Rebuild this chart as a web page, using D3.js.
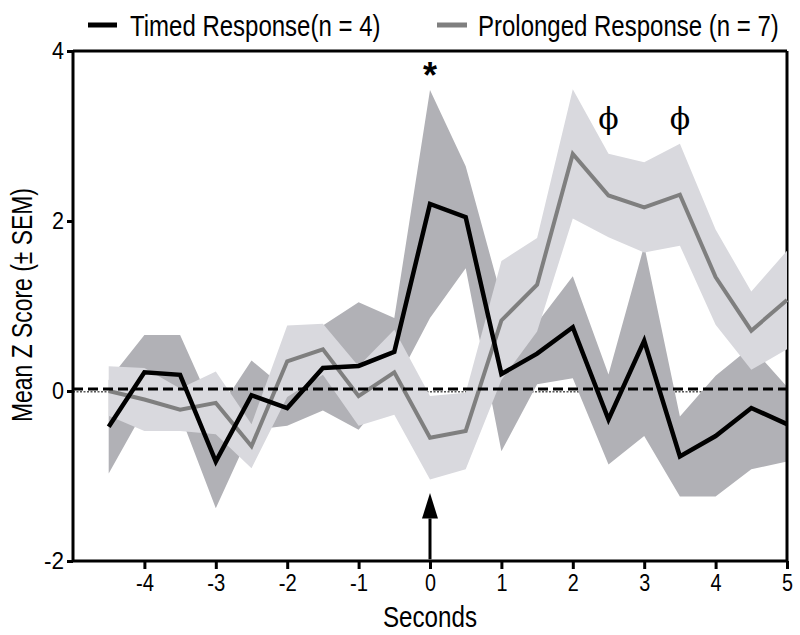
<!DOCTYPE html>
<html><head><meta charset="utf-8">
<script src="https://cdn.jsdelivr.net/npm/d3@7"></script>
<style>
body{margin:0;background:#fff;}
text{font-family:"Liberation Sans Narrow","Arial Narrow","Liberation Sans",Arial,sans-serif;fill:#000;}
</style></head>
<body>
<svg id="chart" width="800" height="635"></svg>
<script>
const seconds = [-4.5,-4,-3.5,-3,-2.5,-2,-1.5,-1,-0.5,0,0.5,1,1.5,2,2.5,3,3.5,4,4.5,5];
const timedMean = [-0.42,0.22,0.19,-0.83,-0.05,-0.2,0.27,0.295,0.46,2.2,2.045,0.2,0.44,0.75,-0.335,0.59,-0.77,-0.53,-0.2,-0.39];
const timedSEM  = [0.55,0.44,0.47,0.55,0.41,0.21,0.5,0.75,0.4,1.34,0.6,0.91,0.36,0.6,0.53,1.12,0.47,0.71,0.72,0.44];
const prolongedMean = [0.0,-0.1,-0.22,-0.14,-0.65,0.35,0.49,-0.06,0.22,-0.55,-0.47,0.83,1.25,2.79,2.3,2.16,2.31,1.34,0.71,1.07];
const prolongedSEM  = [0.29,0.37,0.25,0.37,0.26,0.42,0.3,0.35,0.5,0.49,0.45,0.7,0.55,0.76,0.49,0.53,0.6,0.56,0.46,0.58];
const xTicks = [-4,-3,-2,-1,0,1,2,3,4,5];
const yTicks = [-2,0,2,4];
const seriesNames = ["Timed Response(n = 4)","Prolonged Response (n = 7)"];
const starMarks = [{x:0,y:3.75,t:"*"}];
const phiMarks = [{x:2.5,y:3.2,t:"ϕ"},{x:3.5,y:3.2,t:"ϕ"}];

const svg = d3.select("#chart");
const x = d3.scaleLinear().domain([-5,5]).range([73,787]);
const y = d3.scaleLinear().domain([-2,4]).range([561,51]);

const timed = seconds.map((s,i)=>({s, m:timedMean[i], e:timedSEM[i]}));
const prol = seconds.map((s,i)=>({s, m:prolongedMean[i], e:prolongedSEM[i]}));

const area = d3.area().x(d=>x(d.s)).y0(d=>y(d.m-d.e)).y1(d=>y(d.m+d.e));
const line = d3.line().x(d=>x(d.s)).y(d=>y(d.m));

// thin dotted zero line
svg.append("line").attr("x1",x(-5)).attr("x2",x(5)).attr("y1",y(-0.01)).attr("y2",y(-0.01))
  .attr("stroke","#000").attr("stroke-width",1).attr("stroke-dasharray","2,1.5");

// dark band (timed)
svg.append("path").datum(timed).attr("d",area).attr("fill","#b1b1b6");

// frame
const frame = svg.append("g");
frame.append("line").attr("x1",x(-5)).attr("x2",x(5)).attr("y1",y(4)).attr("y2",y(4)).attr("stroke","#000").attr("stroke-width",3);
frame.append("line").attr("x1",x(5)).attr("x2",x(5)).attr("y1",y(4)).attr("y2",y(-2)).attr("stroke","#000").attr("stroke-width",3);

const fmt = d => String(d);
const xAxis = svg.append("g").attr("transform",`translate(0,${y(-2)})`)
  .call(d3.axisBottom(x).tickValues(xTicks).tickSize(8).tickPadding(6).tickFormat(fmt));
const yAxis = svg.append("g").attr("transform",`translate(${x(-5)},0)`)
  .call(d3.axisLeft(y).tickValues(yTicks).tickSize(6).tickPadding(3).tickFormat(fmt));
[xAxis,yAxis].forEach(g=>{
  g.select(".domain").attr("stroke","#000").attr("stroke-width",3);
  g.selectAll(".tick line").attr("stroke","#000").attr("stroke-width",3);
  g.selectAll(".tick text").attr("font-size",23).attr("fill","#000")
   .style("font-family",'"Liberation Sans Narrow","Arial Narrow","Liberation Sans",sans-serif');
});
xAxis.selectAll(".tick text").attr("textLength",d=>d<0?18:11).attr("lengthAdjust","spacingAndGlyphs");
yAxis.selectAll(".tick text").attr("textLength",d=>d<0?20:12).attr("lengthAdjust","spacingAndGlyphs");
xAxis.select(".domain").attr("d",`M${x(-5)},0H${x(5)}`);
yAxis.select(".domain").attr("d",`M0,${y(-2)}V${y(4)}`);

// light band (prolonged)
svg.append("path").datum(prol).attr("d",area).attr("fill","#d9d9de");

// lines
svg.append("path").datum(prol).attr("d",line).attr("fill","none").attr("stroke","#7f7f7f")
  .attr("stroke-width",4).attr("stroke-linejoin","miter");
svg.append("path").datum(timed).attr("d",line).attr("fill","none").attr("stroke","#000")
  .attr("stroke-width",4.5).attr("stroke-linejoin","miter");

// dashed baseline
svg.append("line").attr("x1",x(-5)).attr("x2",x(5)).attr("y1",y(0.025)).attr("y2",y(0.025))
  .attr("stroke","#000").attr("stroke-width",3).attr("stroke-dasharray","10,5");

// arrow at 0
svg.append("line").attr("x1",x(0)).attr("x2",x(0)).attr("y1",y(-1.5)).attr("y2",y(-1.98))
  .attr("stroke","#000").attr("stroke-width",3);
svg.append("path").attr("d",d3.line()([[x(0),y(-1.2)],[x(0)-8,y(-1.5)],[x(0)+8,y(-1.5)]])+"Z").attr("fill","#000");

// annotations
svg.selectAll(".star").data(starMarks).join("text").attr("x",d=>x(d.x)).attr("y",d=>y(d.y)+16)
  .attr("text-anchor","middle").attr("font-size",36).attr("font-weight","bold")
  .style("font-family","Liberation Sans, Arial, sans-serif").text(d=>d.t);
svg.selectAll(".phi").data(phiMarks).join("text").attr("x",d=>x(d.x)).attr("y",d=>y(d.y)+10)
  .attr("text-anchor","middle").attr("font-size",30)
  .style("font-family","DejaVu Serif, Liberation Serif, serif").text(d=>d.t);

// axis titles
svg.append("text").attr("x",430).attr("y",627).attr("text-anchor","middle").attr("font-size",29)
  .attr("textLength",94).attr("lengthAdjust","spacingAndGlyphs").text("Seconds");
svg.append("text").attr("transform","translate(32,305) rotate(-90)").attr("text-anchor","middle")
  .attr("font-size",29).attr("textLength",234).attr("lengthAdjust","spacingAndGlyphs").text("Mean Z Score (± SEM)");

// legend
const leg = [{x1:88,x2:117,tx:130,c:"#000"},{x1:437,x2:467,tx:478,c:"#7f7f7f"}];
leg.forEach((l,i)=>{
  svg.append("line").attr("x1",l.x1).attr("x2",l.x2).attr("y1",25).attr("y2",25).attr("stroke",l.c).attr("stroke-width",5);
  svg.append("text").attr("transform",`translate(${l.tx},36) scale(1,1.25)`).attr("font-size",24)
    .style("font-family","Liberation Sans, Arial, sans-serif").text(seriesNames[i]);
});
</script>
</body></html>
